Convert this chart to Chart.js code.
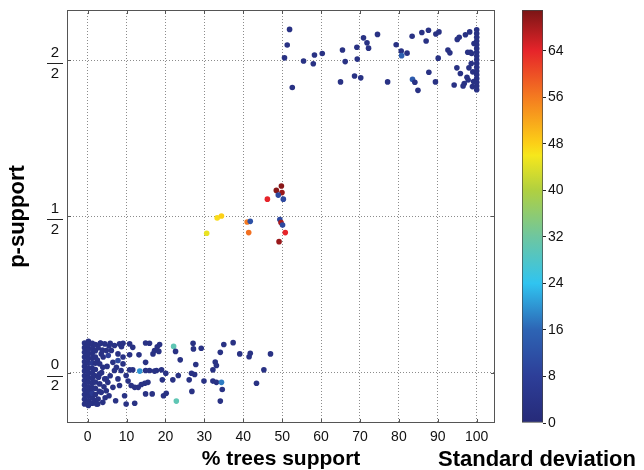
<!DOCTYPE html>
<html>
<head>
<meta charset="utf-8">
<script src="https://cdn.jsdelivr.net/npm/chart.js@4.4.1/dist/chart.umd.min.js"></script>
<style>
html, body { margin: 0; padding: 0; background: #fff; }
#wrap { position: relative; width: 644px; height: 470px; overflow: hidden; }
#main { position: absolute; left: 0; top: 0; }
#cbar { position: absolute; left: 430px; top: 0; }
#cbarTitle { position: absolute; left: 430px; width: 214px; top: 448px; text-align: center;
  font: bold 22px "Liberation Sans", Arial, sans-serif; color: #000; line-height: 22px; white-space: nowrap; }
</style>
</head>
<body>
<div id="wrap">
  <canvas id="main" width="510" height="470"></canvas>
  <canvas id="cbar" width="214" height="470"></canvas>
  <div id="cbarTitle">Standard deviation</div>
</div>
<script>
// [% trees support, p-support (jittered), standard deviation]
let lowPoints = [
    // dense column near 0 %
    [-0.8,-0.100,3],[-0.8,-0.085,3],[-0.8,-0.070,3],[-0.8,-0.055,3],[-0.8,-0.040,3],[-0.8,-0.025,3],[-0.8,-0.010,3],
    [-0.8,0.005,3],[-0.8,0.020,3],[-0.8,0.035,3],[-0.8,0.050,3],[-0.8,0.065,3],[-0.8,0.080,3],[-0.8,0.095,3],
    [0.2,-0.105,3],[0.2,-0.090,3],[0.2,-0.075,3],[0.2,-0.060,3],[0.2,-0.045,3],[0.2,-0.030,3],[0.2,-0.015,3],[0.2,0.000,3],
    [0.2,0.015,3],[0.2,0.030,3],[0.2,0.045,3],[0.2,0.060,3],[0.2,0.075,3],[0.2,0.090,3],[0.2,0.100,3],
    [1.2,-0.098,3],[1.2,-0.082,3],[1.2,-0.066,6],[1.2,-0.050,3],[1.2,-0.034,3],[1.2,-0.018,3],[1.2,-0.002,3],
    [1.2,0.014,3],[1.2,0.030,6],[1.2,0.046,3],[1.2,0.062,3],[1.2,0.078,3],[1.2,0.094,3],
    [2.0,-0.090,3],[2.0,-0.070,3],[2.0,-0.050,3],[2.0,-0.030,3],[2.0,-0.010,3],[2.0,0.010,3],[2.0,0.030,3],
    [2.0,0.050,3],[2.0,0.070,3],[2.0,0.090,3],
    [2.7,0.080,3],[3.0,-0.060,3],[2.5,0.040,3],[3.6,0.000,3],[4.0,0.050,3],[4.5,-0.080,3],[5.0,0.020,3],
    [2.8,-0.015,3],[3.3,0.095,3],[4.2,-0.045,3],[5.5,0.085,3],[5.8,-0.010,3],[2.6,-0.100,3],[3.8,0.072,3],
    [4.8,-0.020,8],[5.3,0.055,8],
    // scattered part
    [3.3,0.094,3],[4.4,0.092,3],[5.8,0.094,3],[6.9,0.087,3],[8.2,0.092,3],[9.1,0.094,3],[8.7,0.083,3],
    [10.8,0.092,3],[11.6,0.081,3],[14.9,0.095,3],[15.9,0.094,3],[17.9,0.083,3],[18.5,0.090,3],[22.1,0.084,30],
    [22.6,0.068,3],[27.1,0.094,3],[27.2,0.076,3],[29.2,0.078,3],[35.0,0.090,3],[37.4,0.096,3],[34.1,0.065,3],
    [39.1,0.060,3],[41.8,0.062,3],[41.5,0.051,3],[47.0,0.060,3],[45.3,0.009,3],[43.4,-0.034,3],[29.9,-0.027,3],
    [32.2,-0.027,3],[33.1,-0.031,3],[34.4,-0.031,18],[34.6,-0.054,3],[34.1,-0.091,3],[32.8,0.034,3],[33.1,0.023,3],
    [32.2,0.009,3],[27.8,0.026,3],[26.7,-0.002,3],[27.5,-0.006,3],[26.1,-0.023,3],[26.8,-0.060,3],[22.8,-0.091,30],
    [23.3,-0.009,3],[21.9,-0.023,3],[23.8,0.041,3],[20.2,-0.066,3],[19.5,-0.074,3],[19.2,-0.023,3],[20.1,-0.002,3],
    [19.0,0.009,3],[17.7,0.007,3],[17.2,0.005,3],[15.9,0.007,3],[14.9,0.007,3],[13.4,0.005,20],[13.2,0.057,3],
    [10.8,0.057,3],[14.9,0.033,3],[16.8,0.060,3],[17.2,0.071,3],[18.3,0.068,3],[14.9,-0.068,3],[16.6,-0.068,3],
    [14.7,-0.034,3],[15.5,-0.031,3],[13.8,-0.038,3],[13.0,-0.047,3],[12.1,-0.047,3],[11.2,-0.041,3],[10.4,-0.027,3],
    [9.9,-0.009,3],[9.5,-0.074,3],[9.9,-0.100,3],[12.1,-0.098,3],[7.2,-0.090,3],[5.5,-0.074,3],[4.8,-0.058,3],
    [6.5,-0.047,3],[7.8,-0.020,3],[6.9,0.007,3],[8.6,0.007,3],[10.8,0.009,3],[11.6,0.009,3],[6.5,0.033,3],
    [7.8,0.039,10],[9.1,0.050,3],[7.8,0.060,3],[6.1,0.071,3],[4.8,0.071,3],[3.5,0.060,3],[3.1,0.028,3],
    [3.9,0.017,3],[3.1,-0.004,3],[4.4,-0.020,3],[3.1,-0.036,3],[3.5,-0.063,3],[2.7,-0.084,3],[3.9,-0.095,3],
    [2.3,-0.100,3],[5.2,-0.031,3],[8.2,-0.041,3],[9.1,0.028,3],[7.4,0.017,3]
];

let midPoints = [
    [30.6,0.446,45],[33.3,0.495,47],[34.4,0.501,48],[41.0,0.482,56],[41.8,0.484,12],[41.4,0.448,57],
    [46.2,0.555,64],[48.5,0.583,70],[49.8,0.597,70],[49.95,0.576,69],[49.0,0.568,10],[50.3,0.555,10],
    [49.4,0.490,10],[49.7,0.480,68],[50.1,0.472,10],[50.8,0.448,64],[49.2,0.419,69]
];

let highPoints = [
    [51.9,1.098,3],[51.3,1.048,3],[50.6,1.007,3],[52.6,0.912,3],[55.5,0.997,3],[58.0,0.988,3],[58.3,1.016,3],
    [60.3,1.021,3],[65.5,1.032,3],[65.0,0.930,3],[66.2,0.995,3],[69.2,1.041,3],[69.3,1.003,3],[68.6,0.949,3],
    [70.2,0.943,3],[70.9,1.071,3],[71.8,1.055,3],[72.2,1.038,3],[74.5,1.082,3],[77.1,0.930,3],[79.3,1.049,3],
    [80.6,1.029,3],[80.7,1.014,15],[82.1,1.022,3],[83.4,1.076,3],[83.5,0.938,14],[84.1,0.929,3],[84.9,0.903,3],
    [85.9,1.088,3],[87.0,1.061,3],[87.6,1.095,3],[87.7,0.961,3],[89.5,1.083,3],[90.3,1.090,3],[90.1,1.006,3],
    [89.4,0.930,3],[92.6,1.032,3],[93.1,1.023,3],[94.2,0.920,3],[95.0,1.066,3],[95.5,1.073,3],[97.1,1.081,3],
    [98.2,1.090,3],[97.7,1.025,3],[98.4,1.025,3],[98.7,1.021,3],[94.9,0.975,3],[95.8,0.957,3],[98.0,0.975,3],
    [97.5,0.945,3],[97.8,0.936,3],[96.8,0.925,3],[96.5,0.917,3],[98.6,0.989,3],[98.9,0.915,3],[99.3,1.053,3],
    [99.0,0.962,3],[99.2,0.931,3],
    // dense column at 100 %
    [100,0.905,3],[100,0.917,3],[100,0.929,3],[100,0.941,3],[100,0.953,3],[100,0.965,3],[100,0.977,3],
    [100,0.989,3],[100,1.001,3],[100,1.013,3],[100,1.025,3],[100,1.037,3],[100,1.049,3],[100,1.061,3],
    [100,1.073,3],[100,1.085,3],[100,1.097,3]
];

let xTickValues = [0, 10, 20, 30, 40, 50, 60, 70, 80, 90, 100];
let yTickValues = [0, 0.5, 1];
let yTickLabels = [['0', '2'], ['1', '2'], ['2', '2']];
let cbarTickValues = [0, 8, 16, 24, 32, 40, 48, 56, 64];
let cbarMin = 0;
let cbarMax = 71;

// jet-like colour stops (value, rgb)
let jetStops = [
    [0, [38, 42, 120]], [8, [45, 62, 152]], [16, [45, 100, 180]], [24, [48, 196, 240]],
    [32, [110, 198, 160]], [40, [176, 208, 64]], [46, [246, 231, 28]], [48, [252, 208, 23]],
    [56, [244, 123, 32]], [64, [230, 36, 42]], [71, [122, 21, 21]]
];

let jet = function(v) {
    for (let i = 1; i < jetStops.length; i++) {
        let [v1, c1] = jetStops[i];
        let [v0, c0] = jetStops[i - 1];
        if (v <= v1 || i === jetStops.length - 1) {
            let t = Math.max(0, Math.min(1, (v - v0) / (v1 - v0)));
            let c = c0.map((a, k) => Math.round(a + (c1[k] - a) * t));
            return `rgb(${c[0]}, ${c[1]}, ${c[2]})`;
        }
    }
};

let fontFamily = '"Liberation Sans", Arial, sans-serif';

let make_dataset = function(points) {
    return {
        data: points.map(p => ({x: p[0], y: p[1]})),
        pointBackgroundColor: points.map(p => jet(p[2])),
        pointBorderWidth: 0,
        pointRadius: 2.8,
        showLine: false,
    };
};

// labels must not push the plot box around
let no_label_padding = function(s) {
    s.paddingTop = 0; s.paddingBottom = 0; s.paddingLeft = 0; s.paddingRight = 0;
};

// box, inner tick marks and fraction bars (MATLAB style)
let framePlugin = {
    id: 'frame',
    afterDraw(chart) {
        let {ctx, chartArea: a, scales: {x, y}} = chart;
        ctx.save();
        ctx.strokeStyle = '#555';
        ctx.lineWidth = 1;
        ctx.strokeRect(a.left + 0.5, a.top + 0.5, a.right - a.left - 1, a.bottom - a.top - 1);
        ctx.beginPath();
        xTickValues.forEach(v => {
            let px = Math.round(x.getPixelForValue(v)) + 0.5;
            ctx.moveTo(px, a.bottom); ctx.lineTo(px, a.bottom - 4);
            ctx.moveTo(px, a.top); ctx.lineTo(px, a.top + 4);
        });
        yTickValues.forEach(v => {
            let py = Math.round(y.getPixelForValue(v)) + 0.5;
            ctx.moveTo(a.left, py); ctx.lineTo(a.left + 4, py);
            ctx.moveTo(a.right, py); ctx.lineTo(a.right - 4, py);
        });
        ctx.stroke();
        // fraction bars
        ctx.strokeStyle = '#222';
        ctx.beginPath();
        let barRight = y.right - 4;
        yTickValues.forEach(v => {
            let py = Math.round(y.getPixelForValue(v)) + 3.5;
            ctx.moveTo(barRight - 16, py); ctx.lineTo(barRight, py);
        });
        ctx.stroke();
        ctx.restore();
    }
};

new Chart(document.getElementById('main').getContext('2d'), {
    type: 'scatter',
    data: {
        datasets: [make_dataset(lowPoints), make_dataset(highPoints), make_dataset(midPoints)],
    },
    options: {
        responsive: false,
        animation: false,
        layout: {padding: {left: 0, right: 15, top: 10, bottom: 0}},
        plugins: {legend: {display: false}, tooltip: {enabled: false}},
        scales: {
            x: {
                type: 'linear',
                min: -5.3,
                max: 104.7,
                afterBuildTicks: s => { s.ticks = xTickValues.map(v => ({value: v})); },
                afterFit: s => { s.height = 47; no_label_padding(s); },
                ticks: {color: '#111', padding: 6, font: {family: fontFamily, size: 14}},
                grid: {color: '#8c8c8c', drawTicks: false},
                border: {display: false, dash: [1, 2]},
                title: {
                    display: true,
                    text: '% trees support',
                    color: '#000',
                    padding: 0,
                    font: {family: fontFamily, size: 21, weight: 'bold', lineHeight: 1},
                },
            },
            y: {
                type: 'linear',
                min: -0.161,
                max: 1.16,
                afterBuildTicks: s => { s.ticks = yTickValues.map(v => ({value: v})); },
                afterFit: s => { s.width = 67; no_label_padding(s); },
                ticks: {
                    color: '#111',
                    padding: 8,
                    labelOffset: 3,
                    font: {family: fontFamily, size: 15, lineHeight: 1.4},
                    callback: v => yTickLabels[yTickValues.indexOf(v)],
                },
                grid: {color: '#8c8c8c', drawTicks: false},
                border: {display: false, dash: [1, 2]},
                title: {
                    display: true,
                    text: 'p-support',
                    color: '#000',
                    padding: {top: 7, bottom: 0},
                    font: {family: fontFamily, size: 22, weight: 'bold', lineHeight: 1},
                },
            },
        },
    },
    plugins: [framePlugin],
});

// colour bar
new Chart(document.getElementById('cbar').getContext('2d'), {
    type: 'bar',
    data: {
        labels: [''],
        datasets: [{
            data: [[cbarMin, cbarMax]],
            backgroundColor: function(context) {
                let chart = context.chart;
                if (!chart.chartArea) return 'transparent';
                let ys = chart.scales.y;
                let g = chart.ctx.createLinearGradient(0, ys.getPixelForValue(cbarMin), 0, ys.getPixelForValue(cbarMax));
                jetStops.forEach(([v, c]) => g.addColorStop((v - cbarMin) / (cbarMax - cbarMin), `rgb(${c[0]}, ${c[1]}, ${c[2]})`));
                return g;
            },
            borderColor: '#444',
            borderWidth: 1,
            borderSkipped: false,
            barPercentage: 1,
            categoryPercentage: 1,
        }],
    },
    options: {
        responsive: false,
        animation: false,
        layout: {padding: {left: 92, right: 61, top: 10, bottom: 47}},
        plugins: {legend: {display: false}, tooltip: {enabled: false}},
        scales: {
            x: {display: false},
            y: {
                position: 'right',
                min: cbarMin,
                max: cbarMax,
                afterBuildTicks: s => { s.ticks = cbarTickValues.map(v => ({value: v})); },
                afterFit: s => { s.width = 40; no_label_padding(s); },
                ticks: {color: '#111', padding: 2, font: {family: fontFamily, size: 14}},
                grid: {drawOnChartArea: false, drawTicks: true, tickLength: 3, color: '#222'},
                border: {display: false},
            },
        },
    },
});
</script>
</body>
</html>
